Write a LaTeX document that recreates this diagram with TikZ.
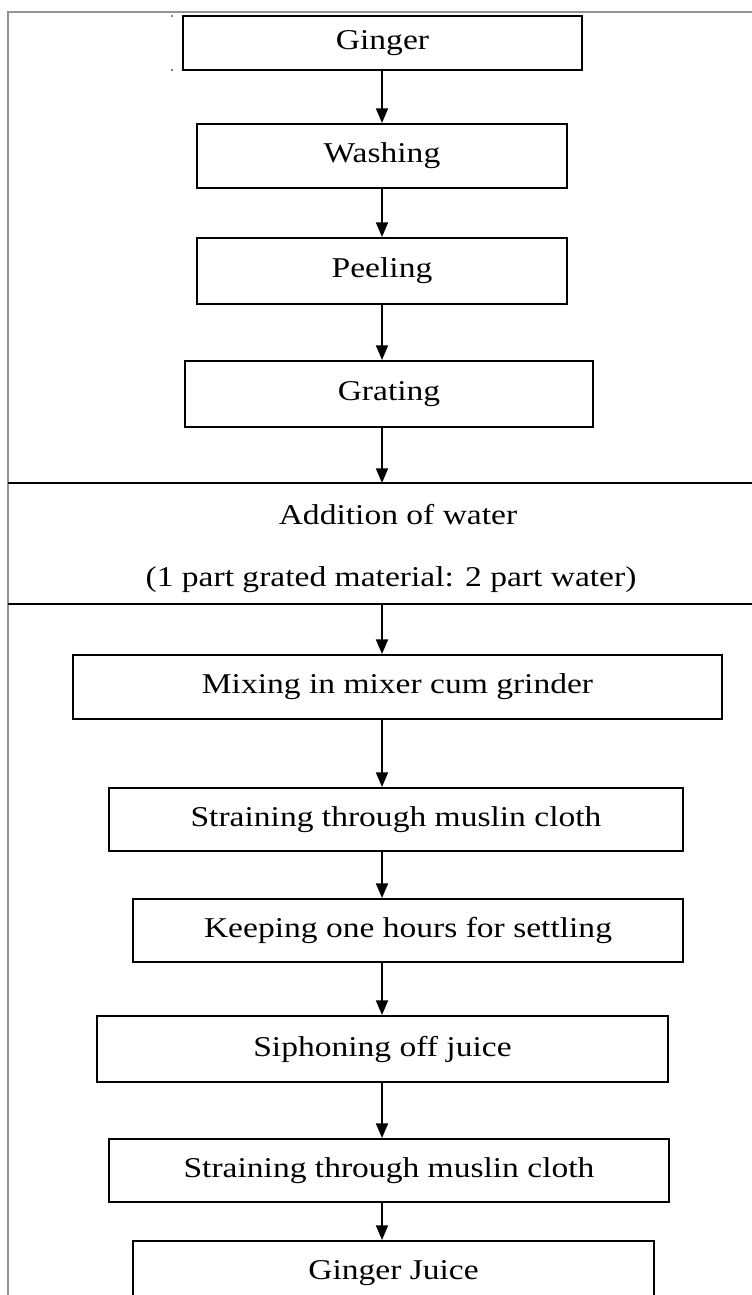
\documentclass[tikz,border=0pt]{standalone}
\usepackage{fontspec}
\setmainfont{Liberation Serif}[FakeStretch=1.17]
\usetikzlibrary{arrows.meta}

\begin{document}
\begin{tikzpicture}[x=0.75pt, y=-0.75pt, >={Triangle[length=11pt,width=9pt]},
  stage/.style={draw, line width=1.5pt, inner sep=0pt, font=\fontsize{21.5}{25}\selectfont},
  note/.style={anchor=base, inner sep=0pt, font=\fontsize{21.5}{25}\selectfont},
  flow/.style={->, line width=1.4pt},
  frame/.style={draw=gray!85, line width=0.8pt}]
  \useasboundingbox (0,0) rectangle (752,1295);
  \clip (0,0) rectangle (752,1295);

  % Outer frame (top and left only)
  \draw[frame] (752,12) -- (8,12) -- (8,1295);
  \fill[gray] (171,15) rectangle (173,17);
  \fill[gray] (171,69) rectangle (173,71);

  % Spine of the flow
  \coordinate (spine) at (382,0);

  % Upper stages
  \node[stage, minimum width=299.25pt, minimum height=40.5pt] (ginger) at (382.5,43) {Ginger};
  \node[stage, minimum width=277.5pt, minimum height=48pt] (washing) at (382,156) {Washing};
  \node[stage, minimum width=277.5pt, minimum height=49.5pt] (peeling) at (382,271) {Peeling};
  \node[stage, minimum width=306pt, minimum height=49.5pt] (grating) at (389,394) {Grating};

  % Water band
  \coordinate (bandtop) at (8,483);
  \coordinate (bandbot) at (8,604);
  \draw[line width=1.5pt] (bandtop) -- (752,483);
  \draw[line width=1.5pt] (bandbot) -- (752,604);
  \node[note] (water) at (398,524) {Addition of water};
  \node[note] (ratio) at (391,586) {(1 part grated material: 2 part water)};

  % Lower stages
  \node[stage, minimum width=486.75pt, minimum height=48pt] (mixing) at (397.5,687) {Mixing in mixer cum grinder};
  \node[stage, minimum width=430.5pt, minimum height=47.25pt] (strainA) at (396,819.5) {Straining through muslin cloth};
  \node[stage, minimum width=412.5pt, minimum height=47.25pt] (keeping) at (408,930.5) {Keeping one hours for settling};
  \node[stage, minimum width=428.25pt, minimum height=49.5pt] (siphon) at (382.5,1049) {Siphoning off juice};
  \node[stage, minimum width=420pt, minimum height=47.25pt] (strainB) at (389,1170.5) {Straining through muslin cloth};
  \node[stage, minimum width=390.75pt, minimum height=48pt] (juice) at (393.5,1273) {Ginger Juice};

  % Arrows
  \draw[flow] (ginger.south -| spine) -- (washing.north -| spine);
  \draw[flow] (washing.south -| spine) -- (peeling.north -| spine);
  \draw[flow] (peeling.south -| spine) -- (grating.north -| spine);
  \draw[flow] (grating.south -| spine) -- (spine |- bandtop);
  \draw[flow] (spine |- bandbot) -- (mixing.north -| spine);
  \draw[flow] (mixing.south -| spine) -- (strainA.north -| spine);
  \draw[flow] (strainA.south -| spine) -- (keeping.north -| spine);
  \draw[flow] (keeping.south -| spine) -- (siphon.north -| spine);
  \draw[flow] (siphon.south -| spine) -- (strainB.north -| spine);
  \draw[flow] (strainB.south -| spine) -- (juice.north -| spine);
\end{tikzpicture}
\end{document}
